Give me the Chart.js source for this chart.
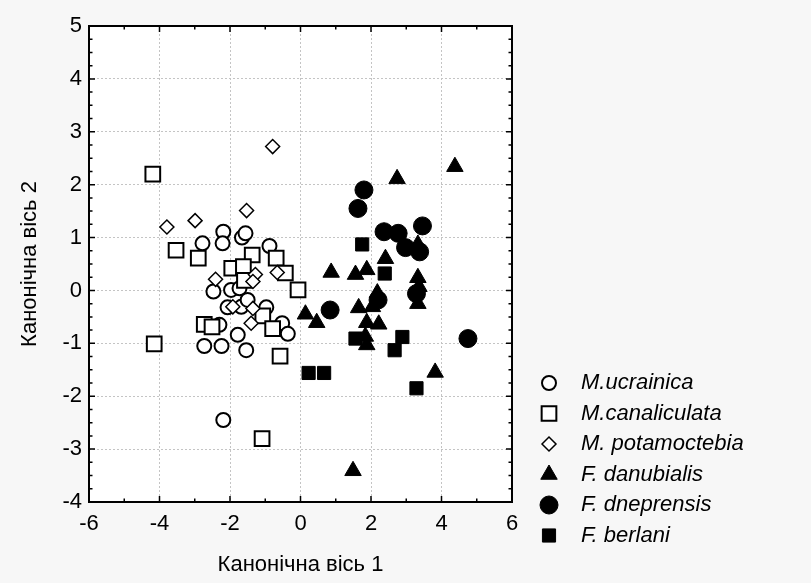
<!DOCTYPE html>
<html>
<head>
<meta charset="utf-8">
<title>Канонічні осі</title>
<script src="https://cdn.jsdelivr.net/npm/chart.js@4.4.0/dist/chart.umd.min.js"></script>
<style>
  html, body { margin: 0; padding: 0; background: #f7f7f7; }
  canvas { display: block; }
</style>
</head>
<body>
<canvas id="chart" width="811" height="583"></canvas>
<script>
// ─── Data (canonical scores) ───────────────────────────────────

const ucrainicaX = [-2.78, -2.19, -2.21, -1.66, -1.56, -0.88, -2.47, -1.97, -1.73, -2.07, -1.68, -1.50, -0.97, -2.30, -1.78, -2.73, -2.24, -1.54, -0.52, -0.36, -2.19];
const ucrainicaY = [0.89, 1.11, 0.89, 1.00, 1.08, 0.84, -0.02, 0.01, 0.04, -0.32, -0.31, -0.18, -0.32, -0.65, -0.84, -1.05, -1.05, -1.13, -0.62, -0.82, -2.45];

const canaliculataX = [-4.19, -3.53, -2.90, -1.95, -1.37, -1.62, -1.59, -0.69, -0.43, -0.07, -2.73, -2.51, -1.07, -0.79, -0.58, -4.15, -1.09];
const canaliculataY = [2.20, 0.76, 0.61, 0.42, 0.67, 0.45, 0.19, 0.61, 0.33, 0.01, -0.64, -0.69, -0.48, -0.72, -1.24, -1.01, -2.80];

const potamoctebiaX = [-3.79, -2.99, -1.53, -0.79, -2.41, -1.28, -1.35, -0.66, -1.92, -1.35, -1.40];
const potamoctebiaY = [1.20, 1.32, 1.51, 2.72, 0.21, 0.30, 0.17, 0.34, -0.31, -0.34, -0.62];

const danubialisX = [2.74, 4.38, 0.87, 1.56, 1.88, 2.41, 3.33, 3.33, 3.36, 3.33, 2.18, 0.14, 0.46, 1.65, 2.04, 1.88, 2.22, 1.84, 1.88, 3.82, 1.49];
const danubialisY = [2.11, 2.34, 0.34, 0.30, 0.39, 0.60, 0.87, 0.24, 0.07, -0.25, -0.05, -0.45, -0.61, -0.33, -0.31, -0.61, -0.64, -0.87, -1.03, -1.55, -3.41];

const dneprensisX = [1.80, 1.63, 2.37, 2.77, 3.46, 2.98, 3.38, 3.29, 2.20, 0.84, 4.75];
const dneprensisY = [1.90, 1.55, 1.11, 1.08, 1.22, 0.81, 0.73, -0.06, -0.18, -0.37, -0.91];

const berlaniX = [1.75, 2.39, 1.56, 2.89, 2.67, 0.23, 0.67, 3.29];
const berlaniY = [0.87, 0.32, -0.91, -0.88, -1.13, -1.56, -1.56, -1.85];

const X_TICKS = { min: -6, max: 6, step: 2 };
const Y_TICKS = { min: -4, max: 5, step: 1 };
const X_TITLE = 'Канонічна вісь 1';
const Y_TITLE = 'Канонічна вісь 2';

const FONT = 'Arial, "Liberation Sans", sans-serif';

const toPoints = (xs, ys) => xs.map((x, i) => ({ x, y: ys[i] }));

function series(label, xs, ys, style, radius, filled, border, order) {
  return {
    label,
    data: toPoints(xs, ys),
    pointStyle: style,
    pointRadius: radius,
    pointHoverRadius: radius,
    pointBackgroundColor: filled ? '#000' : '#fff',
    pointBorderColor: '#000',
    pointBorderWidth: border,
    order,
  };
}

const datasets = [
  series('M.ucrainica', ucrainicaX, ucrainicaY, 'circle', 7, false, 2, 6),
  series('M.canaliculata', canaliculataX, canaliculataY, 'rect', 10.4, false, 2, 5),
  series('M. potamoctebia', potamoctebiaX, potamoctebiaY, 'rectRot', 7, false, 1.5, 4),
  series('F. danubialis', danubialisX, danubialisY, 'triangle', 9.5, true, 1, 3),
  series('F. dneprensis', dneprensisX, dneprensisY, 'circle', 9, true, 1, 2),
  series('F. berlani', berlaniX, berlaniY, 'rect', 9.3, true, 1, 1),
];

// ─── Plugins ───────────────────────────────────────────────────

const background = {
  id: 'background',
  beforeDraw(chart) {
    const { ctx, chartArea: a } = chart;
    ctx.save();
    ctx.fillStyle = '#f7f7f7';
    ctx.fillRect(0, 0, chart.width, chart.height);
    ctx.fillStyle = '#fff';
    ctx.fillRect(a.left, a.top, a.right - a.left, a.bottom - a.top);
    ctx.restore();
  },
};

// frame around the plot with inward tick marks on all four sides
const frame = {
  id: 'frame',
  afterDatasetsDraw(chart) {
    const { ctx, chartArea: a, scales: { x, y } } = chart;
    ctx.save();
    ctx.strokeStyle = '#000';
    ctx.lineWidth = 2;
    ctx.strokeRect(a.left, a.top, a.right - a.left, a.bottom - a.top);
    ctx.lineWidth = 1.5;
    ctx.beginPath();
    for (let v = x.min; v <= x.max; v += 1) {
      const px = x.getPixelForValue(v);
      const len = v % X_TICKS.step === 0 ? 6 : 3.5;
      ctx.moveTo(px, a.bottom); ctx.lineTo(px, a.bottom - len);
      ctx.moveTo(px, a.top); ctx.lineTo(px, a.top + len);
    }
    for (let v = y.min; v <= y.max + 1e-9; v += 0.25) {
      const py = y.getPixelForValue(v);
      const len = Number.isInteger(v) ? 6 : 3.5;
      ctx.moveTo(a.left, py); ctx.lineTo(a.left + len, py);
      ctx.moveTo(a.right, py); ctx.lineTo(a.right - len, py);
    }
    ctx.stroke();
    ctx.restore();
  },
};

// legend in the lower right corner, markers drawn with each dataset's own style
const sideLegend = {
  id: 'sideLegend',
  afterDraw(chart) {
    const { ctx, chartArea: a } = chart;
    const markerX = a.right + 37;
    const textX = a.right + 69;
    const firstY = 383;
    const rowH = 30.5;
    ctx.save();
    ctx.font = `italic 22px ${FONT}`;
    ctx.textBaseline = 'middle';
    ctx.textAlign = 'left';
    chart.data.datasets.forEach((ds, i) => {
      const cy = firstY + i * rowH;
      ctx.fillStyle = ds.pointBackgroundColor;
      ctx.strokeStyle = ds.pointBorderColor;
      ctx.lineWidth = ds.pointBorderWidth;
      Chart.helpers.drawPoint(ctx, {
        pointStyle: ds.pointStyle,
        radius: ds.pointRadius,
        borderWidth: ds.pointBorderWidth,
        rotation: 0,
      }, markerX, cy);
      ctx.fillStyle = '#000';
      ctx.fillText(ds.label, textX, cy);
    });
    ctx.restore();
  },
};

// ─── Chart ─────────────────────────────────────────────────────

const tickFont = { family: FONT, size: 22 };

new Chart(document.getElementById('chart'), {
  type: 'scatter',
  data: { datasets },
  options: {
    responsive: false,
    animation: false,
    events: [],
    devicePixelRatio: 1,
    layout: { padding: { left: 0, top: 26, right: 299, bottom: 0 } },
    plugins: {
      legend: { display: false },
      tooltip: { enabled: false },
    },
    scales: {
      x: {
        type: 'linear',
        min: X_TICKS.min,
        max: X_TICKS.max,
        ticks: { stepSize: X_TICKS.step, color: '#000', font: tickFont, padding: 9, maxRotation: 0 },
        grid: { color: '#c4c4c4', lineWidth: 1, drawTicks: false },
        border: { display: false, dash: [2, 2] },
        title: { display: true, text: X_TITLE, color: '#000', font: tickFont, padding: { top: 0, bottom: 5 } },
        afterFit: s => { s.height = 81; },
      },
      y: {
        type: 'linear',
        min: Y_TICKS.min,
        max: Y_TICKS.max,
        ticks: { stepSize: Y_TICKS.step, color: '#000', font: tickFont, padding: 7 },
        grid: { color: '#c4c4c4', lineWidth: 1, drawTicks: false },
        border: { display: false, dash: [2, 2] },
        title: { display: true, text: Y_TITLE, color: '#000', font: tickFont, padding: { top: 17, bottom: 0 } },
        afterFit: s => { s.width = 89; },
      },
    },
  },
  plugins: [background, frame, sideLegend],
});
</script>
</body>
</html>
